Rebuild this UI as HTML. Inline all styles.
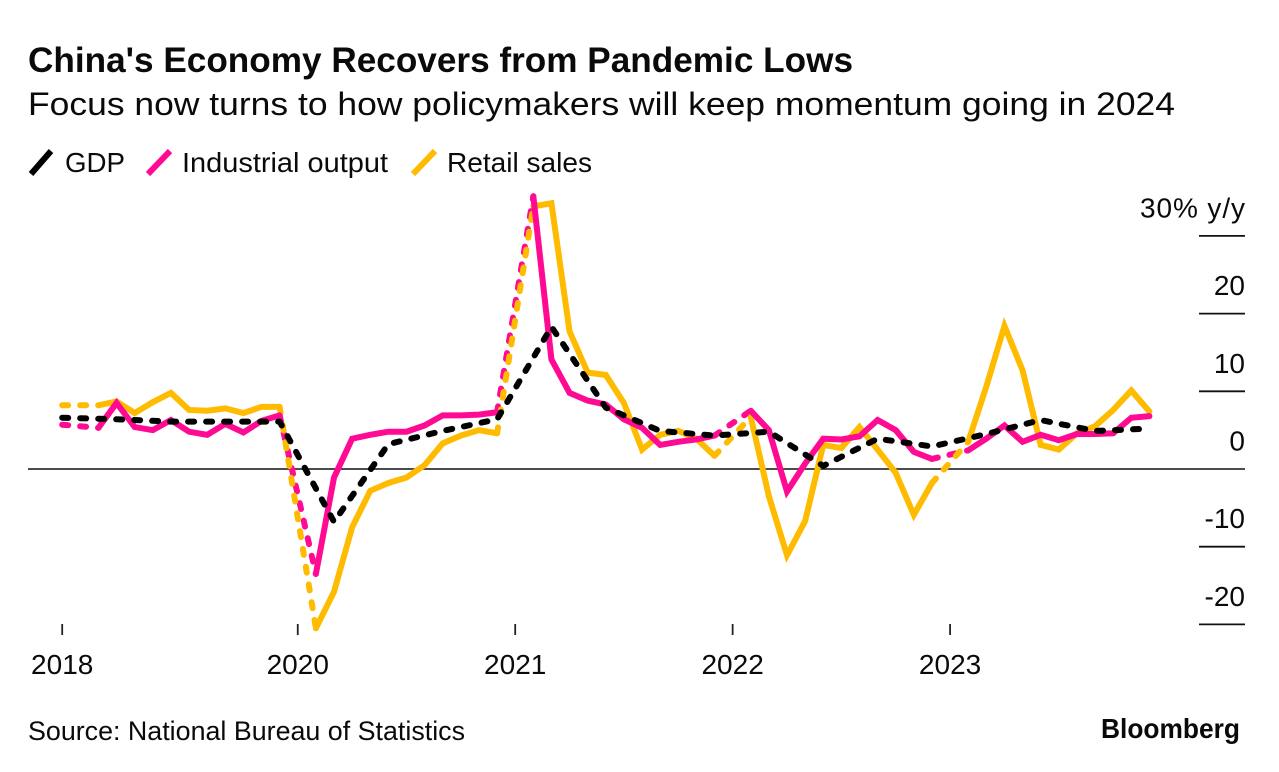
<!DOCTYPE html>
<html lang="en">
<head>
<meta charset="utf-8">
<title>China's Economy Recovers from Pandemic Lows</title>
<style>
html,body{margin:0;padding:0;background:#fff;}
body{width:1279px;height:772px;overflow:hidden;}
svg{display:block;}
text{font-family:"Liberation Sans",Arial,sans-serif;fill:#0a0a0a;}
</style>
</head>
<body>
<svg id="chart" width="1279" height="772" viewBox="0 0 1279 772" xmlns="http://www.w3.org/2000/svg">
  <text x="28" y="72" font-size="35.5" font-weight="700" textLength="825" lengthAdjust="spacingAndGlyphs">China's Economy Recovers from Pandemic Lows</text>
  <text x="28" y="115" font-size="32.5" textLength="1147" lengthAdjust="spacingAndGlyphs">Focus now turns to how policymakers will keep momentum going in 2024</text>

  <g>
    <g>
      <line x1="31" y1="174" x2="51" y2="151" stroke="#000" stroke-width="6"/>
      <text x="65" y="172" font-size="28" textLength="60" lengthAdjust="spacingAndGlyphs">GDP</text>
    </g>
    <g>
      <line x1="148" y1="174" x2="170" y2="151" stroke="#ff0a93" stroke-width="6"/>
      <text x="182" y="172" font-size="28" textLength="206" lengthAdjust="spacingAndGlyphs">Industrial output</text>
    </g>
    <g>
      <line x1="413" y1="174" x2="435" y2="151" stroke="#ffbb00" stroke-width="6"/>
      <text x="447" y="172" font-size="28" textLength="145" lengthAdjust="spacingAndGlyphs">Retail sales</text>
    </g>
  </g>

  <g id="y-axis"></g>
  <g id="x-axis"></g>
  <g id="series"></g>

  <text x="28" y="740" font-size="26.5" textLength="437" lengthAdjust="spacingAndGlyphs">Source: National Bureau of Statistics</text>
  <text x="1101" y="738" font-size="28" font-weight="700" textLength="139" lengthAdjust="spacingAndGlyphs">Bloomberg</text>
</svg>

<script>
const categories = [
  "2018-12",
  "2019-01","2019-02","2019-03","2019-04","2019-05","2019-06","2019-07","2019-08","2019-09","2019-10","2019-11","2019-12",
  "2020-01","2020-02","2020-03","2020-04","2020-05","2020-06","2020-07","2020-08","2020-09","2020-10","2020-11","2020-12",
  "2021-01","2021-02","2021-03","2021-04","2021-05","2021-06","2021-07","2021-08","2021-09","2021-10","2021-11","2021-12",
  "2022-01","2022-02","2022-03","2022-04","2022-05","2022-06","2022-07","2022-08","2022-09","2022-10","2022-11","2022-12",
  "2023-01","2023-02","2023-03","2023-04","2023-05","2023-06","2023-07","2023-08","2023-09","2023-10","2023-11","2023-12"
];
const gdp = [
  6.6,
  null,null,6.4,null,null,6.1,null,null,6.1,null,null,6.1,
  null,null,-6.8,null,null,3.2,null,null,4.9,null,null,6.4,
  null,null,18.3,null,null,7.9,null,null,4.9,null,null,4.3,
  null,null,4.8,null,null,0.4,null,null,3.9,null,null,2.9,
  null,null,4.5,null,null,6.3,null,null,4.9,null,null,5.2
];
const industrialOutput = [
  5.7,
  null,5.3,8.5,5.4,5.0,6.3,4.8,4.4,5.8,4.7,6.2,6.9,
  null,-13.5,-1.1,3.9,4.4,4.8,4.8,5.6,6.9,6.9,7.0,7.3,
  null,35.1,14.1,9.8,8.8,8.3,6.4,5.3,3.1,3.5,3.8,4.3,
  null,7.5,5.0,-2.9,0.7,3.9,3.8,4.2,6.3,5.0,2.2,1.3,
  null,2.4,3.9,5.6,3.5,4.4,3.7,4.5,4.5,4.6,6.6,6.8
];
const retailSales = [
  8.2,
  null,8.2,8.7,7.2,8.6,9.8,7.6,7.5,7.8,7.2,8.0,8.0,
  null,-20.5,-15.8,-7.5,-2.8,-1.8,-1.1,0.5,3.3,4.3,5.0,4.6,
  null,33.8,34.2,17.7,12.4,12.1,8.5,2.5,4.4,4.9,3.9,1.7,
  null,6.7,-3.5,-11.1,-6.7,3.1,2.7,5.4,2.5,-0.5,-5.9,-1.8,
  null,3.5,10.6,18.4,12.7,3.1,2.5,4.6,5.5,7.6,10.1,7.4
];
const yTicks = [30,20,10,0,-10,-20];
const yTickLabels = ["30% y/y","20","10","0","-10","-20"];
const xTickCategories = ["2018-12","2020-01","2021-01","2022-01","2023-01"];
const xTickLabels = ["2018","2020","2021","2022","2023"];

const SVGNS = "http://www.w3.org/2000/svg";
const xStart = 62.2, xStep = 18.12, yZero = 469, yUnit = 7.77;
function xScale(i){ return xStart + i * xStep; }
function yScale(v){ return yZero - v * yUnit; }
function make(tag, attrs){
  const el = document.createElementNS(SVGNS, tag);
  for (const k in attrs) el.setAttribute(k, attrs[k]);
  return el;
}

/* y axis */
const yAxis = document.getElementById("y-axis");
yTicks.forEach(function(t, i){
  const y = yScale(t);
  const isZero = t === 0;
  const line = make("line", {x1: isZero ? 28 : 1199, x2: 1245, y1: y, y2: y, stroke: isZero ? "#333" : "#111", "stroke-width": 1.8});
  
  
  yAxis.appendChild(line);
  const label = make("text", {x: 1245, y: y - 18.5, "text-anchor": "end", "font-size": 28});
  
  
  label.textContent = yTickLabels[i];
  if (i === 0) label.setAttribute("textLength", 105);
  yAxis.appendChild(label);
});

/* x axis */
const xAxis = document.getElementById("x-axis");
xTickCategories.forEach(function(c, i){
  const x = xScale(categories.indexOf(c));
  const tick = make("line", {x1: x, x2: x, y1: 624, y2: 635, stroke: "#222", "stroke-width": 1.8});
  
  
  xAxis.appendChild(tick);
  const label = make("text", {x: x, y: 674, "text-anchor": "middle", "font-size": 28});
  
  
  label.textContent = xTickLabels[i];
  xAxis.appendChild(label);
});

/* Split a series: consecutive months are solid, spans across missing months are dashed */
function buildPaths(values){
  let solid = "", dashed = "", prev = -1, lastSolidEnd = -1, lastDashEnd = -1;
  values.forEach(function(v, i){
    if (v === null) return;
    if (prev >= 0){
      const a = xScale(prev).toFixed(2) + " " + yScale(values[prev]).toFixed(2);
      const b = xScale(i).toFixed(2) + " " + yScale(v).toFixed(2);
      if (i - prev === 1){
        solid += (lastSolidEnd === prev ? "" : "M" + a) + "L" + b;
        lastSolidEnd = i;
      } else {
        dashed += (lastDashEnd === prev ? "" : "M" + a) + "L" + b;
        lastDashEnd = i;
      }
    }
    prev = i;
  });
  return {solid: solid, dashed: dashed};
}
const layer = document.getElementById("series");
const pinkPaths = buildPaths(industrialOutput);
const yellowPaths = buildPaths(retailSales);
const blackPaths = buildPaths(gdp);
function addLine(d, color, isDashed){
  const p = make("path", {d: d, fill: "none", stroke: color, "stroke-width": 6});
  p.setAttribute("stroke-linecap", "round");
  if (isDashed){
    p.setAttribute("stroke-dasharray", "6 12");
    p.setAttribute("stroke-linejoin", "round");
  } else {
    p.setAttribute("stroke-linejoin", "miter");
  }
  layer.appendChild(p);
  return p;
}
const pinkDash = addLine(pinkPaths.dashed, "#ff0a93", true);


const yellowDash = addLine(yellowPaths.dashed, "#ffbb00", true);


const yellowSolid = addLine(yellowPaths.solid, "#ffbb00", false);


const pinkSolid = addLine(pinkPaths.solid, "#ff0a93", false);


const blackDash = addLine(blackPaths.dashed, "#000", true);


</script>
</body>
</html>
